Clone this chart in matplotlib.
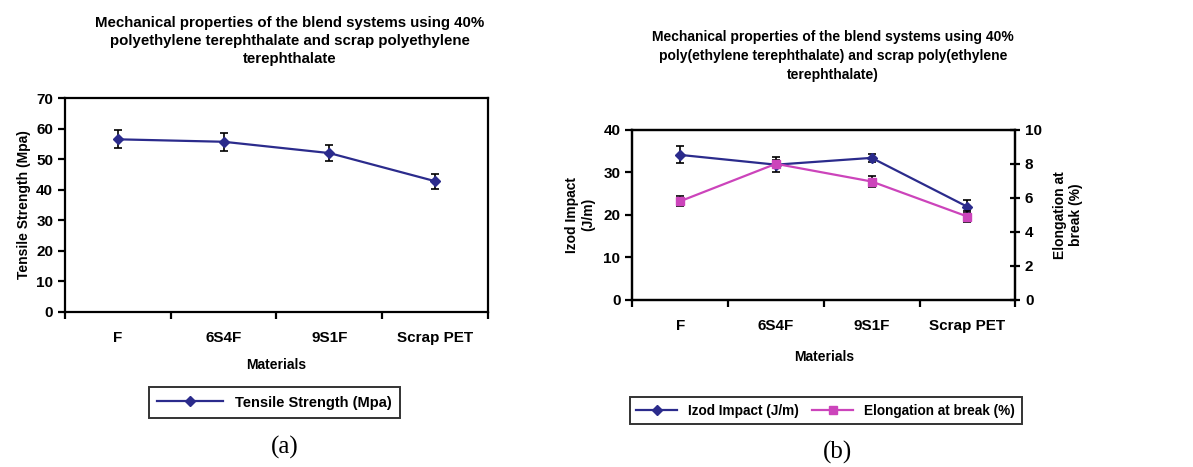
import numpy as np
import matplotlib
matplotlib.use('Agg')
import matplotlib.pyplot as plt

plt.rcParams['font.family'] = ['Liberation Sans', 'DejaVu Sans']
plt.rcParams['font.weight'] = 'bold'

# data
materials = ['F', '6S4F', '9S1F', 'Scrap PET']
tensile = [56.5, 55.7, 52.0, 42.8]
tensile_err = [3.0, 3.0, 2.5, 2.5]
izod = [34.1, 31.8, 33.4, 21.9]
izod_err = [2.0, 1.8, 1.0, 1.5]
elong = [5.8, 8.0, 6.96, 4.9]
elong_err = [0.3, 0.2, 0.35, 0.35]

blue = '#2b2b8c'
pink = '#cc44bb'

fig = plt.figure(figsize=(11.93, 4.67), dpi=100)
x = np.arange(len(materials))


def style_axis(ax):
    for s in ax.spines.values():
        s.set_linewidth(1.6)
    ax.set_xlim(-0.5, len(materials) - 0.5)
    ax.set_xticks(x)
    ax.set_xticklabels(materials, fontsize=11, fontweight='bold')
    ax.tick_params(axis='x', which='major', length=0, pad=14)
    ax.set_xticks(np.arange(-0.5, len(materials), 1.0), minor=True)
    ax.tick_params(axis='x', which='minor', length=5, width=1.6, direction='out')
    ax.tick_params(axis='y', length=5, width=1.6, direction='out', labelsize=11)


# (a) tensile strength
ax1 = fig.add_axes([0.0545, 0.332, 0.3545, 0.458])
eb1 = ax1.errorbar(x, tensile, yerr=tensile_err, color=blue, marker='D', markersize=5,
                   lw=1.6, ecolor='black', elinewidth=1.2, capsize=3, capthick=1.2)
style_axis(ax1)
ax1.set_ylim(0, 70)
ax1.set_yticks(range(0, 71, 10))
ax1.set_ylabel('Tensile Strength (Mpa)', fontsize=10, fontweight='bold', labelpad=4)
ax1.set_xlabel('Materials', fontsize=10, fontweight='bold', labelpad=9)
leg1 = ax1.legend([eb1.lines[0]], ['Tensile Strength (Mpa)'], loc='upper center',
                  bbox_to_anchor=(0.495, -0.35), frameon=True, fancybox=False,
                  edgecolor='black', fontsize=10.5, handlelength=4.5, borderpad=0.6,
                  borderaxespad=0)
leg1.get_frame().set_linewidth(1.4)
fig.text(0.243, 0.912, 'Mechanical properties of the blend systems using 40%\n'
         'polyethylene terephthalate and scrap polyethylene\nterephthalate',
         ha='center', va='center', fontsize=10.8, fontweight='bold', linespacing=1.4)
fig.text(0.239, 0.042, '(a)', ha='center', va='center', fontsize=18,
         family='Liberation Serif', fontweight='normal')

# (b) izod impact and elongation
ax2 = fig.add_axes([0.530, 0.358, 0.321, 0.364])
eb2 = ax2.errorbar(x, izod, yerr=izod_err, color=blue, marker='D', markersize=5,
                   lw=1.6, ecolor='black', elinewidth=1.2, capsize=3, capthick=1.2)
style_axis(ax2)
ax2.set_ylim(0, 40)
ax2.set_yticks(range(0, 41, 10))
ax2.set_ylabel('Izod Impact\n(J/m)', fontsize=10, fontweight='bold', labelpad=6)
ax2.set_xlabel('Materials', fontsize=10, fontweight='bold', labelpad=12)

ax3 = ax2.twinx()
eb3 = ax3.errorbar(x, elong, yerr=elong_err, color=pink, marker='s', markersize=6,
                   lw=1.6, ecolor='black', elinewidth=1.2, capsize=3, capthick=1.2)
ax3.set_ylim(0, 10)
ax3.set_yticks(range(0, 11, 2))
ax3.tick_params(axis='y', length=7, width=1.6, direction='inout', labelsize=11)
for s in ax3.spines.values():
    s.set_linewidth(1.6)
ax3.set_ylabel('Elongation at\nbreak (%)', fontsize=10, fontweight='bold', labelpad=8)

leg = ax3.legend([eb2.lines[0], eb3.lines[0]], ['Izod Impact (J/m)', 'Elongation at break (%)'],
                 loc='upper center', bbox_to_anchor=(0.505, -0.57), ncol=2,
                 frameon=True, fancybox=False, edgecolor='black', fontsize=9.8,
                 handlelength=3, columnspacing=1.0, borderpad=0.5, borderaxespad=0)
leg.get_frame().set_linewidth(1.4)
fig.text(0.698, 0.88, 'Mechanical properties of the blend systems using 40%\n'
         'poly(ethylene terephthalate) and scrap poly(ethylene\nterephthalate)',
         ha='center', va='center', fontsize=10, fontweight='bold', linespacing=1.45)
fig.text(0.702, 0.032, '(b)', ha='center', va='center', fontsize=18,
         family='Liberation Serif', fontweight='normal')

fig.savefig('out.png', dpi=100)
